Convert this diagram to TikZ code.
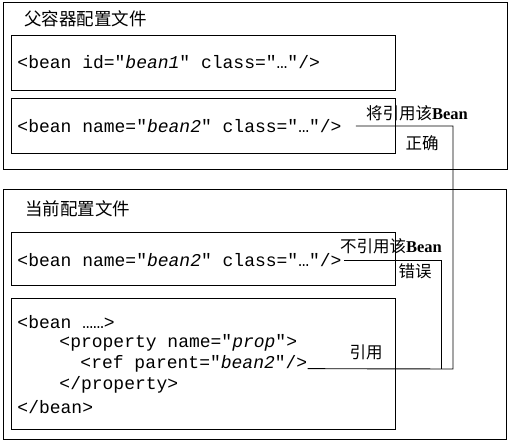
\documentclass[tikz,border=0pt]{standalone}
\usepackage{fontspec}
\setmainfont{Liberation Serif}
\setmonofont{Liberation Mono}
\newfontfamily\cjk{Noto Sans CJK SC}
\usetikzlibrary{positioning}

\tikzset{
  filebox/.style={draw, line width=0.9pt, anchor=north west, inner sep=0pt},
  code/.style={anchor=west, inner sep=0pt, font=\ttfamily\fontsize{18}{21}\selectfont},
  title/.style={anchor=west, inner sep=0pt, font=\cjk\fontsize{17.5}{20}\selectfont},
  note/.style={inner sep=0pt, font=\cjk\fontsize{16.5}{19}\selectfont},
}

\begin{document}
\begin{tikzpicture}[x=1pt,y=-1pt,line width=0.9pt]
\useasboundingbox (0,0) rectangle (509,442);
% parent file
\node (parentfile) at (3,2) [filebox, minimum width=504pt, minimum height=167pt]{};
\node (parenttitle) at (24,19) [title]{父容器配置文件};
\node (beanone) at (11,35) [filebox, minimum width=384pt, minimum height=55pt]{};
\node (beanonecode) at (17,62) [code]{<bean id="\textit{bean1}" class="…"/>};
\node (beantwo) at (11,98) [filebox, minimum width=384pt, minimum height=55pt]{};
\node (pbeantwo) at (17,126) [code]{<bean name="\textit{bean2}" class="…"/>};
% current file
\node (currentfile) at (3,189) [filebox, minimum width=503pt, minimum height=250pt]{};
\node (currenttitle) at (25,209) [title]{当前配置文件};
\node (localbean) at (11,232) [filebox, minimum width=384pt, minimum height=53pt]{};
\node (cbeantwo) at (17,260) [code]{<bean name="\textit{bean2}" class="…"/>};
\node (innerbean) at (11,298) [filebox, minimum width=384pt, minimum height=131pt]{};
\node (beanopen) at (17,322) [code]{<bean ……>};
\node (propopen) at (59,343) [code]{<property name="\textit{prop}">};
\node (refcode) at (80,364) [code]{<ref parent="\textit{bean2}"/>};
\node (propclose) at (59,385) [code]{</property>};
\node (beanclose) at (17,407) [code]{</bean>};
% labels
\node (oklabel) at (417,113) [note]{将引用该{\rmfamily\bfseries Bean}};
\node (okword) at (422,143) [note]{正确};
\node (badlabel) at (391,246) [note]{不引用该{\rmfamily\bfseries Bean}};
\node (badword) at (415,271) [note]{错误};
\node (reflabel) at (366,352) [note]{引用};
% connectors
\coordinate (okturn) at (453,369);
\coordinate (badturn) at (441,369);
\draw ([xshift=14pt]pbeantwo.east) -| (okturn) -- (refcode.base east);
\draw ([xshift=2pt]cbeantwo.east) -| (badturn);
\end{tikzpicture}
\end{document}
